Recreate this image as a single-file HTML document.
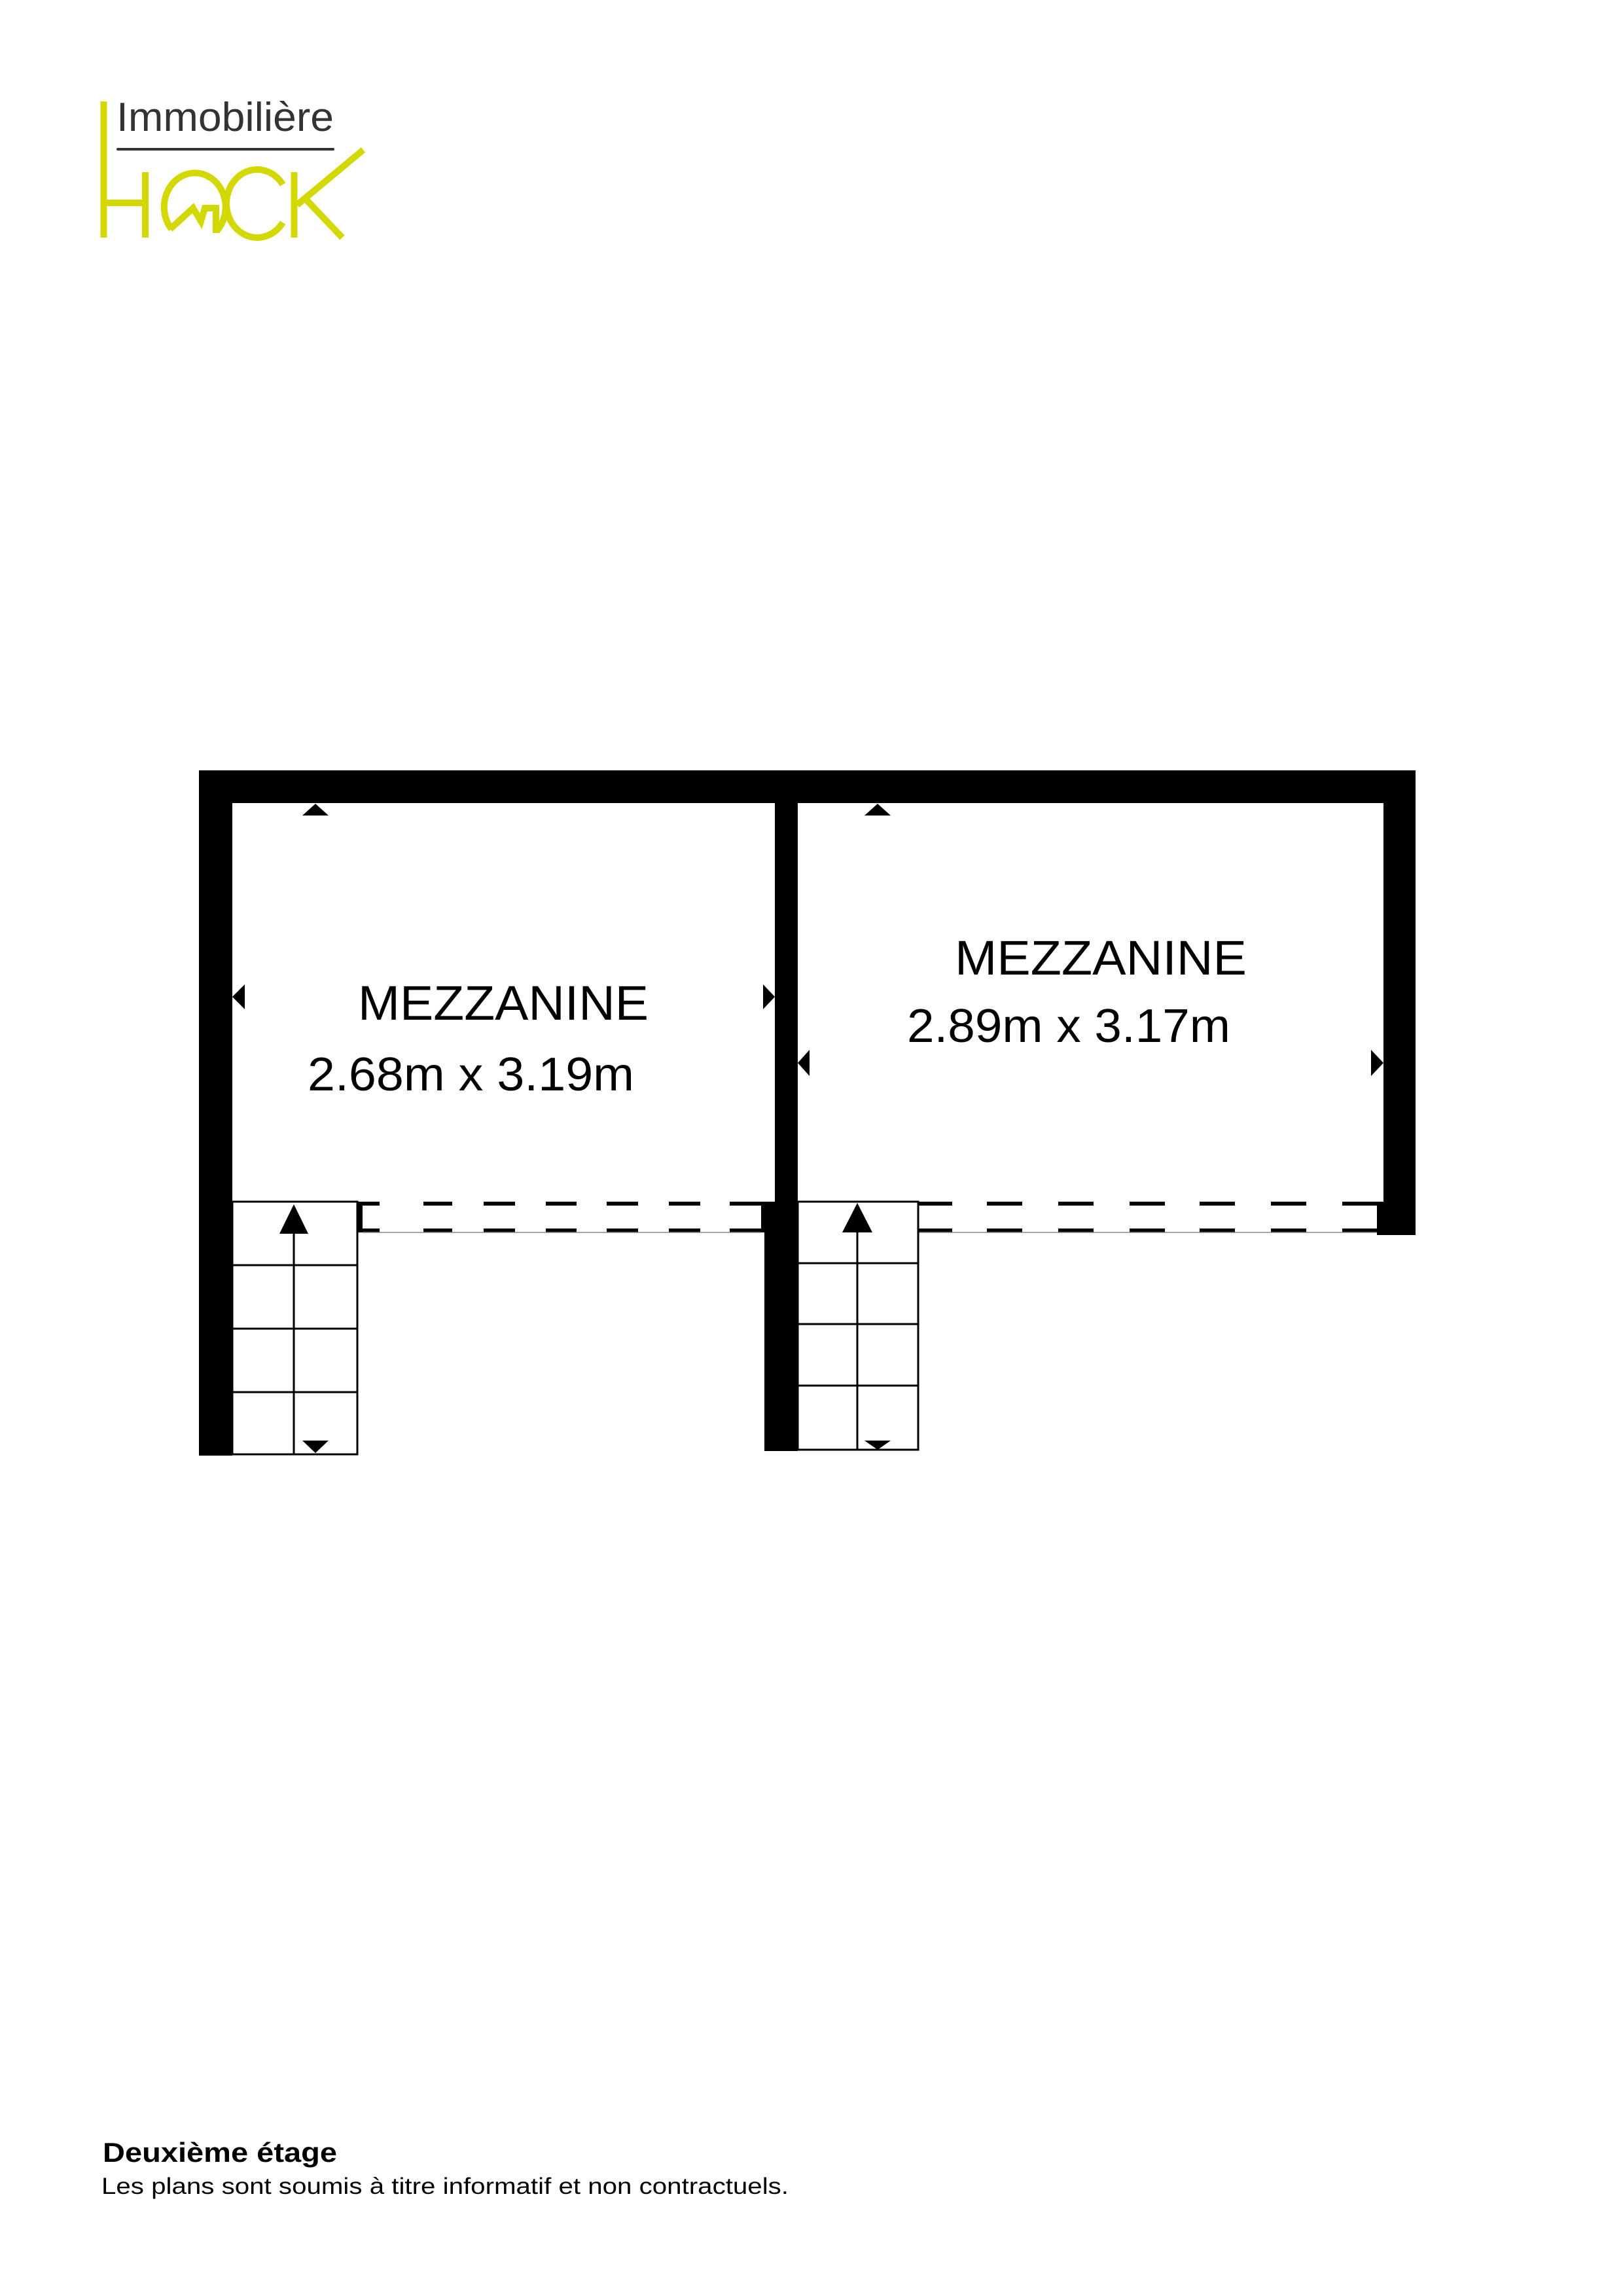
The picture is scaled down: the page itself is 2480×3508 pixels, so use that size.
<!DOCTYPE html>
<html><head><meta charset="utf-8"><style>
html,body{margin:0;padding:0;background:#fff}
svg{display:block}
</style></head><body>
<svg width="2480" height="3508" viewBox="0 0 2480 3508" xmlns="http://www.w3.org/2000/svg">
<rect width="2480" height="3508" fill="#fff"/>
<!-- Logo -->
<g fill="none" stroke="#d3d800" stroke-width="10">
  <line x1="158.5" y1="155" x2="158.5" y2="363"/>
  <line x1="158" y1="310" x2="222" y2="310"/>
  <line x1="222" y1="263" x2="222" y2="363"/>
  <path d="M262,350 A47,52 0 1 1 331,353"/>
  <path d="M260,350 L295,318 L307,338 L313,318 L330,318 L330,356" stroke-linejoin="miter"/>
  <path d="M432,282 A47,52 0 1 0 432,340"/>
  <line x1="449.5" y1="263" x2="449.5" y2="363"/>
  <line x1="454" y1="313" x2="555" y2="229"/>
  <line x1="465" y1="302" x2="523" y2="363"/>
</g>
<text x="178" y="200" font-family="Liberation Sans, sans-serif" font-size="62" fill="#333" textLength="332" lengthAdjust="spacingAndGlyphs">Immobilière</text>
<rect x="178" y="226" width="333" height="4" rx="2" fill="#333"/>

<!-- Walls -->
<g fill="#000">
  <rect x="304" y="1177" width="1859" height="50"/>
  <rect x="304" y="1177" width="51" height="1047"/>
  <rect x="1184" y="1177" width="35" height="1040"/>
  <rect x="1168" y="1836" width="51" height="381"/>
  <rect x="1163" y="1836" width="22" height="47"/>
  <rect x="2114" y="1177" width="49" height="710"/>
  <rect x="2104" y="1836" width="59" height="51"/>
  <rect x="546" y="1836" width="8" height="47"/>
</g>
<!-- dashed rails -->
<g stroke="#000" stroke-width="6" fill="none">
  <path d="M554,1839h26 M647,1839h44 M739,1839h48 M834,1839h47 M927,1839h48 M1022,1839h48 M1115,1839h48"/>
  <path d="M554,1880h26 M647,1880h44 M739,1880h48 M834,1880h47 M927,1880h48 M1022,1880h48 M1115,1880h48"/>
  <path d="M1403,1839h52 M1508,1839h54 M1617,1839h54 M1726,1839h54 M1833,1839h54 M1942,1839h54 M2051,1839h53"/>
  <path d="M1403,1880h52 M1508,1880h54 M1617,1880h54 M1726,1880h54 M1833,1880h54 M1942,1880h54 M2051,1880h53"/>
</g>
<g stroke="#888" stroke-width="1.5">
  <line x1="554" y1="1883" x2="1163" y2="1883"/>
  <line x1="1403" y1="1883" x2="2104" y2="1883"/>
</g>
<!-- stairs -->
<g stroke="#000" stroke-width="3" fill="none">
  <rect x="355" y="1836" width="191" height="386"/>
  <line x1="449" y1="1860" x2="449" y2="2222"/>
  <line x1="355" y1="1933" x2="546" y2="1933"/>
  <line x1="355" y1="2030" x2="546" y2="2030"/>
  <line x1="355" y1="2127" x2="546" y2="2127"/>
  <rect x="1219" y="1836" width="184" height="379"/>
  <line x1="1310" y1="1860" x2="1310" y2="2215"/>
  <line x1="1219" y1="1930" x2="1403" y2="1930"/>
  <line x1="1219" y1="2023" x2="1403" y2="2023"/>
  <line x1="1219" y1="2117" x2="1403" y2="2117"/>
</g>
<g fill="#000">
  <polygon points="449,1840 427,1885 471,1885"/>
  <polygon points="1310,1838 1287,1883 1333,1883"/>
  <polygon points="462,2201 502,2201 482,2220"/>
  <polygon points="1321,2201 1361,2201 1341,2215"/>
  <!-- markers -->
  <polygon points="482,1228 462,1246 502,1246"/>
  <polygon points="1341,1228 1321,1246 1361,1246"/>
  <polygon points="355,1523 374,1504 374,1542"/>
  <polygon points="1184,1523 1166,1504 1166,1542"/>
  <polygon points="1219,1624 1237,1604 1237,1644"/>
  <polygon points="2114,1624 2095,1604 2095,1644"/>
</g>
<!-- labels -->
<g font-family="Liberation Sans, sans-serif" fill="#000">
  <text x="547" y="1558" font-size="74" textLength="444" lengthAdjust="spacingAndGlyphs">MEZZANINE</text>
  <text x="470" y="1666" font-size="72" textLength="499" lengthAdjust="spacingAndGlyphs">2.68m x 3.19m</text>
  <text x="1459" y="1489" font-size="74" textLength="446" lengthAdjust="spacingAndGlyphs">MEZZANINE</text>
  <text x="1386" y="1592" font-size="72" textLength="494" lengthAdjust="spacingAndGlyphs">2.89m x 3.17m</text>
  <text x="157" y="3303" font-size="42" font-weight="bold" textLength="358" lengthAdjust="spacingAndGlyphs">Deuxième étage</text>
  <text x="155" y="3352" font-size="35" textLength="1050" lengthAdjust="spacingAndGlyphs">Les plans sont soumis à titre informatif et non contractuels.</text>
</g>
</svg>
</body></html>
